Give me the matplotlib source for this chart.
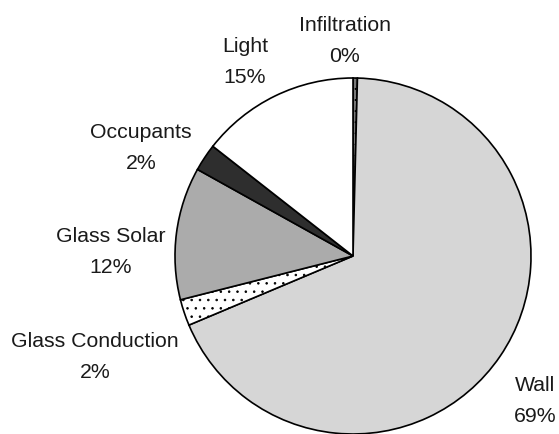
import matplotlib.pyplot as plt

plt.rcParams['font.family'] = ['Liberation Sans', 'DejaVu Sans']
plt.rcParams['hatch.linewidth'] = 0.6

# slices clockwise from 12 o'clock
names = ['Infiltration', 'Wall', 'Glass Conduction', 'Glass Solar', 'Occupants', 'Light']
values = [0.4, 68.6, 2.4, 12.1, 2.5, 14.5]
pct_labels = ['0%', '69%', '2%', '12%', '2%', '15%']
colors = ['#7a7a7a', '#d6d6d6', '#ffffff', '#ababab', '#2e2e2e', '#ffffff']
hatches = ['...', None, '..', None, None, None]

# label centers in pixels (x, y from top)
label_px = [(345, 41), (535, 401), (95, 357), (111, 252), (141, 148), (245, 62)]

W, H = 559, 434
fig = plt.figure(figsize=(W / 100, H / 100), dpi=100)
cx, cy, r = 353, 256, 178
ax = fig.add_axes([(cx - r) / W, (H - cy - r) / H, 2 * r / W, 2 * r / H])

wedges, _ = ax.pie(values, colors=colors, startangle=90, counterclock=False,
                   wedgeprops=dict(edgecolor='black', linewidth=1.2))
for w, h in zip(wedges, hatches):
    if h:
        w.set_hatch(h)
ax.set_xlim(-1, 1)
ax.set_ylim(-1, 1)
ax.axis('off')

for n, p, (x, y) in zip(names, pct_labels, label_px):
    fig.text(x / W, 1 - y / H, n + '\n' + p, ha='center', va='center',
             fontsize=15.3, linespacing=1.8, color='#1a1a1a')

fig.savefig('out.png', dpi=100)
